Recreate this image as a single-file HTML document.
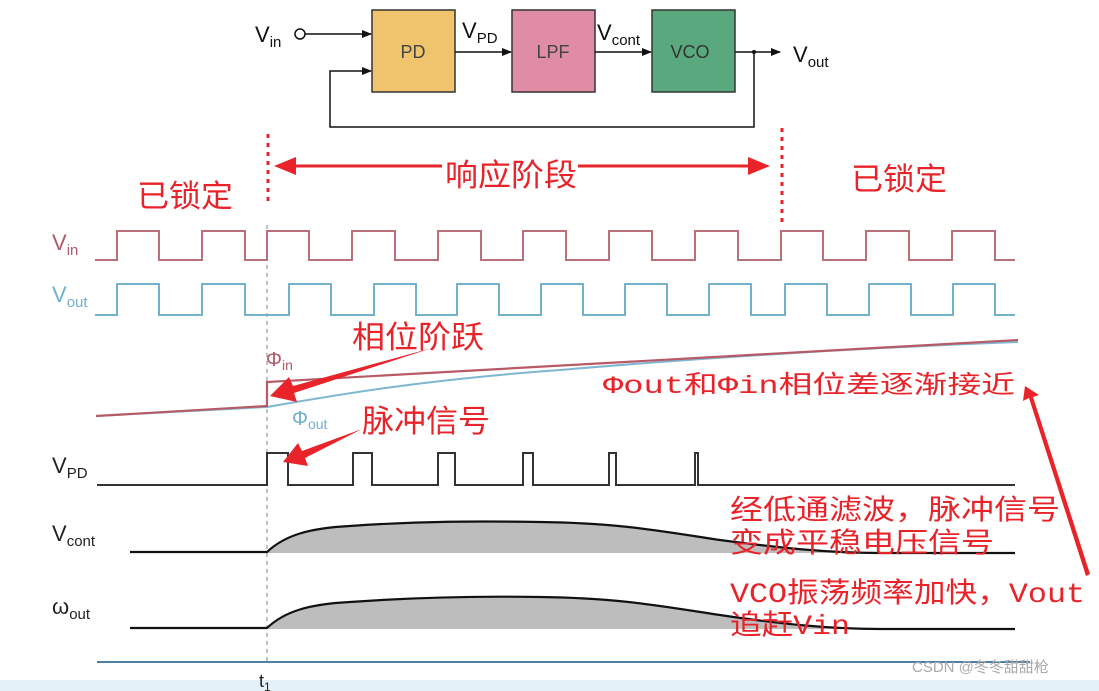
<!DOCTYPE html>
<html><head><meta charset="utf-8"><style>
body{margin:0;background:#fff;}
svg{display:block;font-family:"Liberation Sans","Noto Sans CJK SC",sans-serif;}
.r{fill:#e8232a;font-family:"Noto Sans CJK SC",sans-serif;}
.m{fill:#e8232a;font-family:"Liberation Mono","Noto Sans CJK SC",monospace;}
</style></head><body>
<svg width="1099" height="691" viewBox="0 0 1099 691" xmlns="http://www.w3.org/2000/svg">
<defs>
<marker id="ab" markerWidth="10" markerHeight="10" refX="9" refY="5" orient="auto" markerUnits="userSpaceOnUse"><path d="M0,1 L10,5 L0,9z" fill="#111"/></marker>
</defs>
<rect x="0" y="0" width="1099" height="691" fill="#fff"/>
<rect x="0" y="680" width="1099" height="11" fill="#e4f1f8"/>
<rect x="372" y="10" width="83" height="82" fill="#f0c46c" stroke="#333" stroke-width="1.5"/>
<rect x="512" y="10" width="83" height="82" fill="#e08ca5" stroke="#333" stroke-width="1.5"/>
<rect x="652" y="10" width="83" height="82" fill="#5aa87e" stroke="#333" stroke-width="1.5"/>
<text x="413" y="58" font-size="18" fill="#444" text-anchor="middle">PD</text>
<text x="553" y="58" font-size="18" fill="#444" text-anchor="middle">LPF</text>
<text x="690" y="58" font-size="18" fill="#333" text-anchor="middle">VCO</text>
<text x="255" y="42" font-size="22" fill="#111">V<tspan font-size="15" dy="5">in</tspan></text>
<circle cx="300" cy="34" r="5" fill="#fff" stroke="#111" stroke-width="1.5"/>
<line x1="305" y1="34" x2="371" y2="34" stroke="#111" stroke-width="1.5" marker-end="url(#ab)"/>
<line x1="455" y1="52" x2="511" y2="52" stroke="#111" stroke-width="1.5" marker-end="url(#ab)"/>
<line x1="595" y1="52" x2="651" y2="52" stroke="#111" stroke-width="1.5" marker-end="url(#ab)"/>
<line x1="735" y1="52" x2="780" y2="52" stroke="#111" stroke-width="1.5" marker-end="url(#ab)"/>
<circle cx="754" cy="52" r="2" fill="#111"/>
<polyline points="754,52 754,127 330,127 330,71 371,71" fill="none" stroke="#111" stroke-width="1.5" marker-end="url(#ab)"/>
<text x="462" y="38" font-size="22" fill="#111">V<tspan font-size="15" dy="5">PD</tspan></text>
<text x="597" y="40" font-size="22" fill="#111">V<tspan font-size="15" dy="5">cont</tspan></text>
<text x="793" y="62" font-size="22" fill="#111">V<tspan font-size="15" dy="5">out</tspan></text>
<line x1="268" y1="134" x2="268" y2="205" stroke="#e8232a" stroke-width="3" stroke-dasharray="4,5"/>
<line x1="782" y1="128" x2="782" y2="226" stroke="#e8232a" stroke-width="3" stroke-dasharray="4,5"/>
<line x1="290" y1="166" x2="442" y2="166" stroke="#e8232a" stroke-width="3"/>
<line x1="578" y1="166" x2="752" y2="166" stroke="#e8232a" stroke-width="3"/>
<path d="M274,166 L296,157 L296,175z" fill="#e8232a"/>
<path d="M770,166 L748,157 L748,175z" fill="#e8232a"/>
<text class="r" x="445" y="186" font-size="31" textLength="132" lengthAdjust="spacingAndGlyphs">响应阶段</text>
<text class="r" x="137" y="207" font-size="31" textLength="96" lengthAdjust="spacingAndGlyphs">已锁定</text>
<text class="r" x="851" y="190" font-size="31" textLength="96" lengthAdjust="spacingAndGlyphs">已锁定</text>
<text x="52" y="250" font-size="22" fill="#b05a68">V<tspan font-size="15" dy="5">in</tspan></text>
<text x="52" y="302" font-size="22" fill="#6fb0cc">V<tspan font-size="15" dy="5">out</tspan></text>
<text x="52" y="473" font-size="22" fill="#222">V<tspan font-size="15" dy="5">PD</tspan></text>
<text x="52" y="541" font-size="22" fill="#222">V<tspan font-size="15" dy="5">cont</tspan></text>
<text x="52" y="614" font-size="22" fill="#222">ω<tspan font-size="15" dy="5">out</tspan></text>
<text x="266" y="366" font-size="20" fill="#b05a68">Φ<tspan font-size="14" dy="4">in</tspan></text>
<text x="292" y="425" font-size="20" fill="#6fb0cc">Φ<tspan font-size="14" dy="4">out</tspan></text>
<line x1="267" y1="225" x2="267" y2="662" stroke="#999" stroke-width="1.2" stroke-dasharray="4,4"/>
<polyline fill="none" stroke="#b9707a" stroke-width="2" points="95,260 117,260 117,231 159,231 159,260 202,260 202,231 245,231 245,260 267,260 267,231 309,231 309,260 352,260 352,231 395,231 395,260 438,260 438,231 481,231 481,260 523,260 523,231 566,231 566,260 609,260 609,231 652,231 652,260 695,260 695,231 738,231 738,260 781,260 781,231 823,231 823,260 866,260 866,231 909,231 909,260 952,260 952,231 995,231 995,260 1015,260"/>
<polyline fill="none" stroke="#74b2cc" stroke-width="2" points="95,315 117,315 117,284 159,284 159,315 202,315 202,284 245,284 245,315 289,315 289,284 331,284 331,315 374,315 374,284 416,284 416,315 457,315 457,284 499,284 499,315 541,315 541,284 583,284 583,315 625,315 625,284 667,284 667,315 709,315 709,284 751,284 751,315 785,315 785,284 827,284 827,315 869,315 869,284 911,284 911,315 953,315 953,284 995,284 995,315 1015,315"/>
<path d="M96,416 L267,407 C330,396 420,380 560,370 C700,358 860,348 1018,342" fill="none" stroke="#7fb6d0" stroke-width="2"/>
<polyline fill="none" stroke="#b85a66" stroke-width="2.2" points="96,416 267,406 267,382 1018,340"/>
<polyline fill="none" stroke="#333" stroke-width="2" points="97,485 267,485 267,453 288,453 288,485 353,485 353,453 372,453 372,485 438,485 438,453 455,453 455,485 523,485 523,453 533,453 533,485 609,485 609,453 616,453 616,485 695,485 695,453 698,453 698,485 1015,485"/>
<path d="M267,552 C285,535 310,528 350,526 C420,521 480,521 540,522 C620,523 660,531 720,540 C780,548 830,553 880,553 L1015,553 L267,553z" fill="#bdbdbd"/>
<path d="M130,552 L267,552 C285,535 310,528 350,526 C420,521 480,521 540,522 C620,523 660,531 720,540 C780,548 830,553 880,553 L1015,553" fill="none" stroke="#111" stroke-width="2.2"/>
<path d="M267,628 C285,611 310,604 350,602 C420,597 480,596 540,597 C620,598 660,606 720,615 C780,624 830,629 880,629 L1015,629 L267,629z" fill="#bdbdbd"/>
<path d="M130,628 L267,628 C285,611 310,604 350,602 C420,597 480,596 540,597 C620,598 660,606 720,615 C780,624 830,629 880,629 L1015,629" fill="none" stroke="#111" stroke-width="2.2"/>
<line x1="97" y1="662" x2="1030" y2="662" stroke="#4f7fa3" stroke-width="2"/>
<text x="259" y="687" font-size="18" fill="#222">t<tspan font-size="12" dy="4">1</tspan></text>
<text class="r" x="352" y="348" font-size="31" textLength="132" lengthAdjust="spacingAndGlyphs">相位阶跃</text>
<path d="M432,348 L293,386 L289,377 L270,396 L297,402 L294,393 z" fill="#e8232a"/>
<text class="r" x="362" y="432" font-size="31" textLength="128" lengthAdjust="spacingAndGlyphs">脉冲信号</text>
<path d="M362,429 L302,451 L298,443 L283,462 L308,466 L305,458 z" fill="#e8232a"/>
<text class="m" x="603" y="393" font-size="25" textLength="412" lengthAdjust="spacingAndGlyphs">Φout和Φin相位差逐渐接近</text>
<text class="m" x="730" y="519" font-size="28" textLength="330" lengthAdjust="spacingAndGlyphs">经低通滤波，脉冲信号</text>
<text class="m" x="730" y="552" font-size="28" textLength="264" lengthAdjust="spacingAndGlyphs">变成平稳电压信号</text>
<text class="m" x="730" y="602" font-size="28" textLength="355" lengthAdjust="spacingAndGlyphs">VCO振荡频率加快，Vout</text>
<text class="m" x="730" y="634" font-size="28" textLength="120" lengthAdjust="spacingAndGlyphs">追赶Vin</text>
<path d="M1090,574 L1086,576 L1029,398 L1023,401 L1025,386 L1039,395 L1033,397 z" fill="#e8232a"/>
<text x="912" y="672" font-size="15" fill="#aaa">CSDN @冬冬甜甜枪</text>
</svg>
</body></html>
